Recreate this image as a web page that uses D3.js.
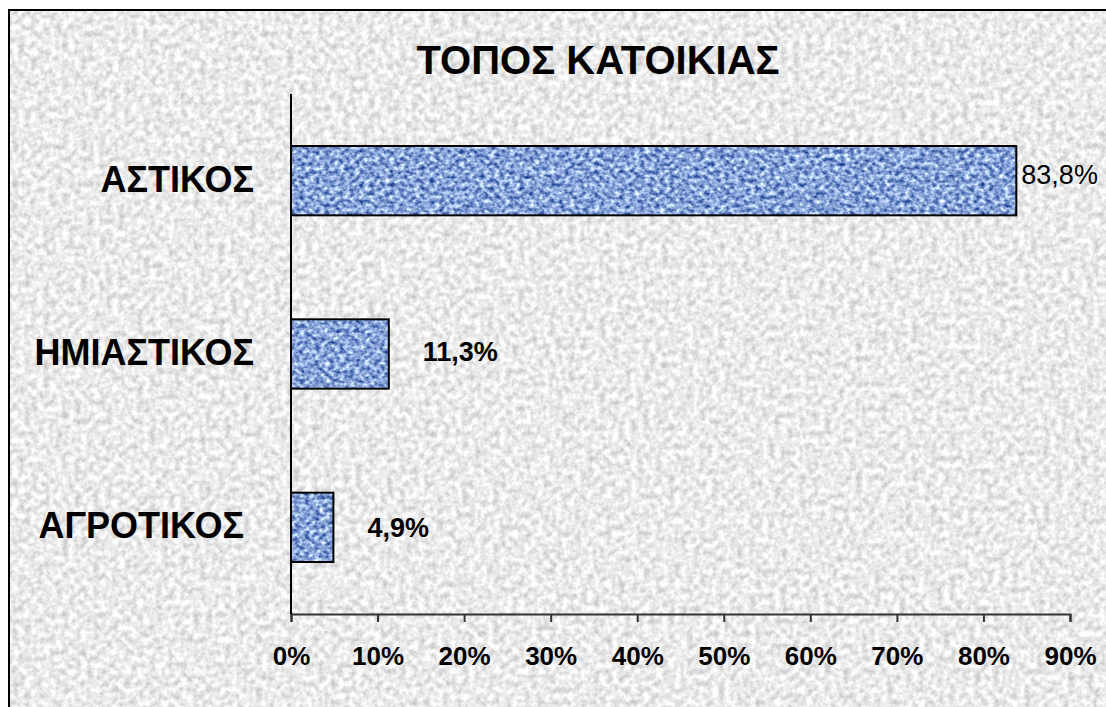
<!DOCTYPE html>
<html>
<head>
<meta charset="utf-8">
<script src="https://cdn.jsdelivr.net/npm/d3@7"></script>
<style>
  body { margin: 0; background: #fff; }
  svg { display: block; font-family: "Liberation Sans", Arial, sans-serif; }
  .axis path, .axis line { stroke: #333; stroke-width: 2; }
  .axis text { fill: #000; font-size: 26px; font-weight: bold; }
</style>
</head>
<body>
<div id="chart"><svg></svg></div>
<script>
var title = "ΤΟΠΟΣ ΚΑΤΟΙΚΙΑΣ";
var categories = ["ΑΣΤΙΚΟΣ", "ΗΜΙΑΣΤΙΚΟΣ", "ΑΓΡΟΤΙΚΟΣ"];
var values = [83.8, 11.3, 4.9];
var valueLabels = ["83,8%", "11,3%", "4,9%"];
var xTicks = [0, 10, 20, 30, 40, 50, 60, 70, 80, 90];

// label nudges, as placed in the original
var labelDx = [5, 34, 34],
    labelDy = [3, 7, 10],
    labelWeight = ["normal", "bold", "bold"];

var W = 1106, H = 707;
var margin = {top: 94, right: 36, bottom: 93, left: 291};

var svg = d3.select("#chart svg")
    .attr("width", W)
    .attr("height", H);

var defs = svg.append("defs");

// grey granite background
var bgF = defs.append("filter").attr("id", "granite")
    .attr("x", 0).attr("y", 0).attr("width", 1).attr("height", 1)
    .attr("color-interpolation-filters", "sRGB");
bgF.append("feTurbulence")
    .attr("type", "fractalNoise")
    .attr("baseFrequency", "0.16")
    .attr("numOctaves", 3)
    .attr("seed", 4);
bgF.append("feColorMatrix")
    .attr("type", "matrix")
    .attr("values", "0.4 0 0 0 0.72  0.4 0 0 0 0.72  0.4 0 0 0 0.72  0 0 0 0 1");
bgF.append("feComposite").attr("in2", "SourceGraphic").attr("operator", "in");

// blue woven bar texture
var barF = defs.append("filter").attr("id", "weave")
    .attr("x", 0).attr("y", 0).attr("width", 1).attr("height", 1)
    .attr("color-interpolation-filters", "sRGB");
barF.append("feTurbulence")
    .attr("type", "fractalNoise")
    .attr("baseFrequency", "0.2 0.24")
    .attr("numOctaves", 2)
    .attr("seed", 7);
barF.append("feColorMatrix")
    .attr("type", "matrix")
    .attr("values", "1.3 0 0 0 -0.12  1.2 0 0 0 0.04  0.85 0 0 0 0.42  0 0 0 0 1");
barF.append("feComposite").attr("in2", "SourceGraphic").attr("operator", "in");

// background and frame
svg.append("rect")
    .attr("x", 8).attr("y", 9)
    .attr("width", W).attr("height", H)
    .attr("fill", "#e6e6e6")
    .attr("filter", "url(#granite)");
svg.append("rect")
    .attr("x", 9).attr("y", 10)
    .attr("width", W + 10).attr("height", H + 10)
    .attr("fill", "none")
    .attr("stroke", "#000")
    .attr("stroke-width", 2);

// title
svg.append("text")
    .attr("x", 598)
    .attr("y", 74)
    .attr("text-anchor", "middle")
    .style("font-size", "40px")
    .style("font-weight", "bold")
    .text(title);

var xScale = d3.scaleLinear()
    .domain([0, 90])
    .range([margin.left, W - margin.right]);

var yScale = d3.scaleBand()
    .domain(categories)
    .range([margin.top, H - margin.bottom])
    .paddingInner(0.6)
    .paddingOuter(0.3);

// bars
svg.selectAll("rect.bar")
    .data(values)
    .enter()
    .append("rect")
    .attr("class", "bar")
    .attr("x", xScale(0))
    .attr("y", function(d, i) { return yScale(categories[i]); })
    .attr("width", function(d) { return xScale(d) - xScale(0); })
    .attr("height", yScale.bandwidth())
    .attr("fill", "#5b80c8")
    .attr("filter", "url(#weave)");

svg.selectAll("rect.barEdge")
    .data(values)
    .enter()
    .append("rect")
    .attr("class", "barEdge")
    .attr("x", xScale(0))
    .attr("y", function(d, i) { return yScale(categories[i]); })
    .attr("width", function(d) { return xScale(d) - xScale(0); })
    .attr("height", yScale.bandwidth())
    .attr("fill", "none")
    .attr("stroke", "#000")
    .attr("stroke-width", 2);

// x axis
var xAxis = d3.axisBottom(xScale)
    .tickValues(xTicks)
    .tickSize(8)
    .tickSizeOuter(8)
    .tickPadding(25)
    .tickFormat(function(d) { return d + "%"; });

svg.append("g")
    .attr("class", "axis")
    .attr("transform", "translate(0," + (H - margin.bottom) + ")")
    .call(xAxis)
    .selectAll("text")
    .attr("dy", "0.71em");

// y axis line only
svg.append("line")
    .attr("x1", xScale(0)).attr("x2", xScale(0))
    .attr("y1", margin.top).attr("y2", H - margin.bottom)
    .attr("stroke", "#000")
    .attr("stroke-width", 2);

// category labels
svg.selectAll("text.cat")
    .data(categories)
    .enter()
    .append("text")
    .attr("class", "cat")
    .attr("x", 254)
    .attr("y", function(d) { return yScale(d) + yScale.bandwidth() / 2 + 11; })
    .attr("text-anchor", "end")
    .style("font-size", "36px")
    .style("font-weight", "bold")
    .style("white-space", "pre")
    .text(function(d, i) { return i == 2 ? d + " " : d; });

// value labels
svg.selectAll("text.val")
    .data(values)
    .enter()
    .append("text")
    .attr("class", "val")
    .attr("x", function(d, i) { return xScale(d) + labelDx[i]; })
    .attr("y", function(d, i) { return yScale(categories[i]) + yScale.bandwidth() / 2 + labelDy[i]; })
    .attr("text-anchor", "start")
    .style("font-size", "27px")
    .style("font-weight", function(d, i) { return labelWeight[i]; })
    .text(function(d, i) { return valueLabels[i]; });
</script>
</body>
</html>
